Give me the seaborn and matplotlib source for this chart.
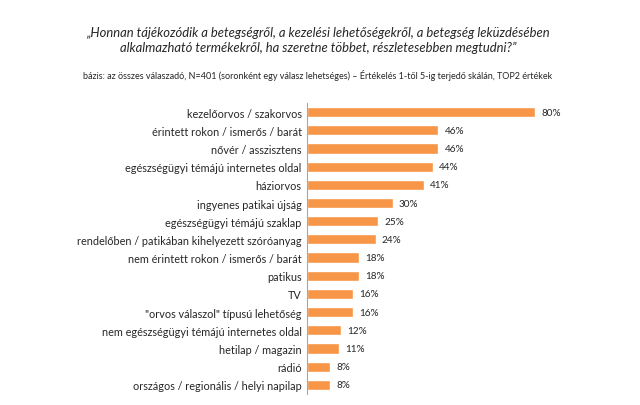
import matplotlib
matplotlib.use("Agg")
import matplotlib.pyplot as plt
import seaborn as sns
import numpy as np
import pandas as pd

categories = [
    "kezelőorvos / szakorvos",
    "érintett rokon / ismerős / barát",
    "nővér / asszisztens",
    "egészségügyi témájú internetes oldal",
    "háziorvos",
    "ingyenes patikai újság",
    "egészségügyi témájú szaklap",
    "rendelőben / patikában kihelyezett szóróanyag",
    "nem érintett rokon / ismerős / barát",
    "patikus",
    "TV",
    "\"orvos válaszol\" típusú lehetőség",
    "nem egészségügyi témájú internetes oldal",
    "hetilap / magazin",
    "rádió",
    "országos / regionális / helyi napilap",
]
values = [80, 46, 46, 44, 41, 30, 25, 24, 18, 18, 16, 16, 12, 11, 8, 8]

title = ("„Honnan tájékozódik a betegségről, a kezelési lehetőségekről, a betegség leküzdésében\n"
         "alkalmazható termékekről, ha szeretne többet, részletesebben megtudni?”")
subtitle = ("bázis: az összes válaszadó, N=401 (soronként egy válasz lehetséges) – "
            "Értékelés 1-től 5-ig terjedő skálán, TOP2 értékek")

sns.set_theme(style="white")
plt.rcParams['font.family'] = ['Lato', 'DejaVu Sans']

df = pd.DataFrame({"cat": categories, "val": values})

fig = plt.figure(figsize=(6.4, 4.06), dpi=100)
ax = fig.add_axes([0.48, 0.027, 0.49, 0.717])
sns.barplot(data=df, y="cat", x="val", orient="h", color="#F79646",
            saturation=1, width=0.56, ax=ax)

ax.set_xlim(0, 110)
ax.set_ylim(len(categories) - 0.5, -0.5)
ax.set_xlabel("")
ax.set_ylabel("")
ax.set_xticks([])
for s in ["top", "right", "bottom"]:
    ax.spines[s].set_visible(False)
ax.spines["left"].set_color("#A6A6A6")
ax.spines["left"].set_linewidth(0.8)
ax.tick_params(axis="y", which="major", length=0, pad=4, labelsize=7.8, labelcolor="#262626")
ax.set_yticks(np.arange(-0.5, len(categories)), minor=True)
ax.tick_params(axis="y", which="minor", length=3, color="#A6A6A6", width=0.8, direction="out")

for i, v in enumerate(values):
    ax.text(v + 2.2, i, f"{v}%", va="center", ha="left", fontsize=7.2, color="#262626")

fig.text(0.497, 0.900, title, ha="center", va="center", fontsize=9.4,
         style="italic", color="#262626", linespacing=1.25)
fig.text(0.497, 0.815, subtitle, ha="center", va="center", fontsize=6.45, color="#262626")

fig.savefig("out.png", dpi=100, facecolor="white")
